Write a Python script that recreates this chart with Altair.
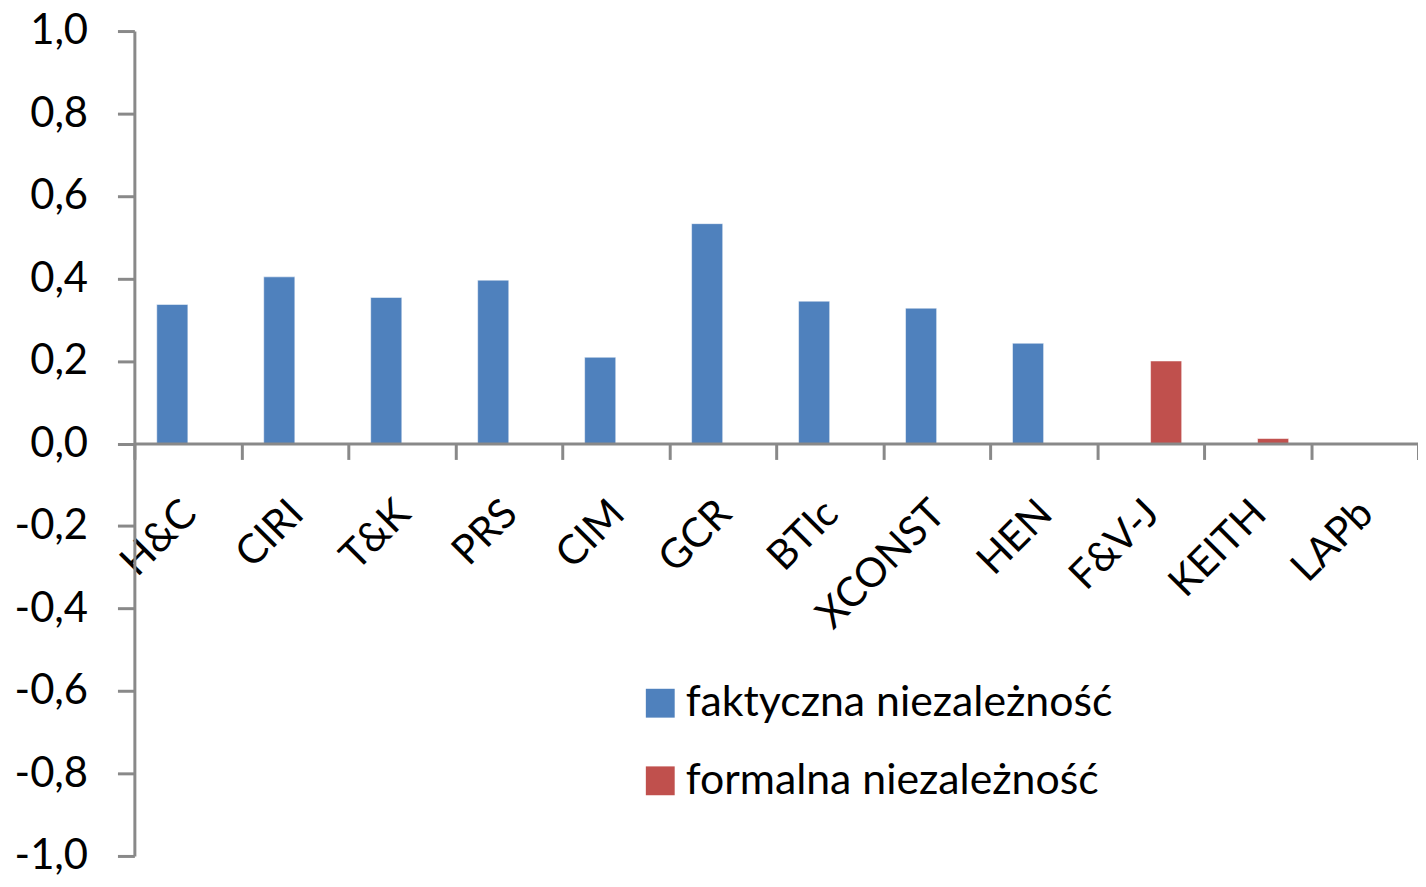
import altair as alt
import pandas as pd

categories = ["H&C", "CIRI", "T&K", "PRS", "CIM", "GCR", "BTIc", "XCONST", "HEN", "F&V-J", "KEITH", "LAPb"]
series_names = ["faktyczna niezależność", "formalna niezależność"]
faktyczna = [0.337, 0.404, 0.354, 0.396, 0.209, 0.533, 0.345, 0.328, 0.243, None, None, None]
formalna = [None, None, None, None, None, None, None, None, None, 0.200, 0.012, None]
y_ticks = [-1.0, -0.8, -0.6, -0.4, -0.2, 0.0, 0.2, 0.4, 0.6, 0.8, 1.0]
colors = ["#4F81BD", "#C0504D"]

rows = []
for c, a, b in zip(categories, faktyczna, formalna):
    if a is not None:
        rows.append({"cat": c, "series": series_names[0], "value": a})
    if b is not None:
        rows.append({"cat": c, "series": series_names[1], "value": b})
df = pd.DataFrame(rows)

FONT = "Lato"
AXIS_COLOR = "#898989"
W, H = 1290, 829

chart = alt.Chart(df).mark_bar(strokeWidth=1, strokeOpacity=0.5, stroke="#ffffff").encode(
    x=alt.X(
        "cat:N",
        sort=categories,
        scale=alt.Scale(domain=categories, paddingInner=0, paddingOuter=0),
        axis=alt.Axis(
            title=None,
            orient="bottom",
            offset=-H / 2,
            tickBand="extent",
            labelAngle=-45,
            labelAlign="right",
            labelBaseline="middle",
            labelOverlap=False,
            labelFlush=False,
            tickSize=16,
            tickWidth=3,
            tickColor=AXIS_COLOR,
            domainColor=AXIS_COLOR,
            domainWidth=3,
            labelPadding=48,
            labelOffset=2,
            labelFont=FONT,
            labelFontSize=41,
            labelColor="#000000",
            labelLimit=400,
            zindex=1,
        ),
    ),
    xOffset=alt.XOffset(
        "series:N",
        sort=series_names,
        scale=alt.Scale(domain=series_names, paddingInner=0, paddingOuter=0.72),
    ),
    y=alt.Y(
        "value:Q",
        scale=alt.Scale(domain=[-1, 1], nice=False, zero=False),
        axis=alt.Axis(
            title=None,
            values=y_ticks,
            grid=False,
            labelExpr="(datum.value < -1e-9 ? '-' : '') + replace(format(abs(datum.value), '.1f'), '.', ',')",
            tickSize=17,
            tickWidth=3,
            tickColor=AXIS_COLOR,
            domainColor=AXIS_COLOR,
            domainWidth=3,
            labelPadding=30,
            labelFont=FONT,
            labelFontSize=42,
            labelColor="#000000",
            zindex=1,
        ),
    ),
    color=alt.Color(
        "series:N",
        sort=series_names,
        scale=alt.Scale(domain=series_names, range=colors),
        legend=alt.Legend(
            title=None,
            orient="none",
            legendX=507,
            legendY=654,
            symbolType="square",
            symbolSize=841,
            symbolStrokeWidth=0,
            symbolOpacity=1,
            labelFont=FONT,
            labelFontSize=43,
            labelColor="#000000",
            labelOffset=4,
            labelLimit=800,
            rowPadding=34,
            padding=0,
        ),
    ),
).properties(
    width=W,
    height=H,
    background="#ffffff",
    autosize=alt.AutoSizeParams(type="none"),
    padding={"left": 127, "top": 21, "right": 0, "bottom": 19},
).configure_view(stroke=None)

chart.save("out.html", embed_options={"renderer": "svg", "actions": False})
